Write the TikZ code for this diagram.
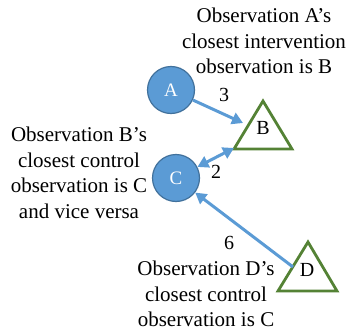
\documentclass[tikz,border=0pt]{standalone}
\usepackage{fontspec}
\setmainfont{Liberation Serif}
\usetikzlibrary{arrows.meta}
\definecolor{cfill}{HTML}{5B9BD5}
\definecolor{cdraw}{HTML}{41719C}
\definecolor{tgreen}{HTML}{548235}
\begin{document}
\begin{tikzpicture}[x=1pt,y=1pt,
  circ/.style={circle,fill=cfill,draw=cdraw,line width=1.2pt,minimum size=47pt,inner sep=0pt,text=white,font=\fontsize{19}{20}\selectfont},
  tri/.style={draw=tgreen,line width=2.8pt,line join=miter},
  lbl/.style={font=\fontsize{20}{20}\selectfont},
  txt/.style={align=center,font=\fontsize{21}{25.5}\selectfont,inner sep=0pt},
  conn/.style={draw=cfill,line width=3pt,-{Triangle[length=11pt,width=12pt]}},
  dconn/.style={draw=cfill,line width=3pt,{Triangle[length=11pt,width=12pt]}-{Triangle[length=11pt,width=12pt]}}]
\useasboundingbox (0,0) rectangle (350,330);
% triangles
\draw[tri] (263,229) -- (234,181) -- (292,181) -- cycle;
\draw[tri] (308,88) -- (278,39) -- (337,39) -- cycle;
\node[lbl] (B) at (263,202) {B};
\node[lbl] (D) at (307,60) {D};
\node[circ] (A) at (171,240) {A};
\node[circ] (C) at (176,152) {C};
\coordinate (Bin) at (243,207);
\coordinate (Bl) at (234,182);
\coordinate (Din) at (293,63);
\draw[conn] (A) -- (Bin);
\draw[dconn] (C) -- (Bl);
\draw[conn] (Din) -- (C);
\node[lbl] (n3) at (224,235) {3};
\node[lbl] (n2) at (216,158) {2};
\node[lbl] (n6) at (229,87) {6};
\node[txt] (tA) at (264,289) {Observation A’s\\closest intervention\\observation is B};
\node[txt] (tB) at (79,157) {Observation B’s\\closest control\\observation is C\\and vice versa};
\node[txt] (tD) at (206,36) {Observation D’s\\closest control\\observation is C};
\end{tikzpicture}
\end{document}
